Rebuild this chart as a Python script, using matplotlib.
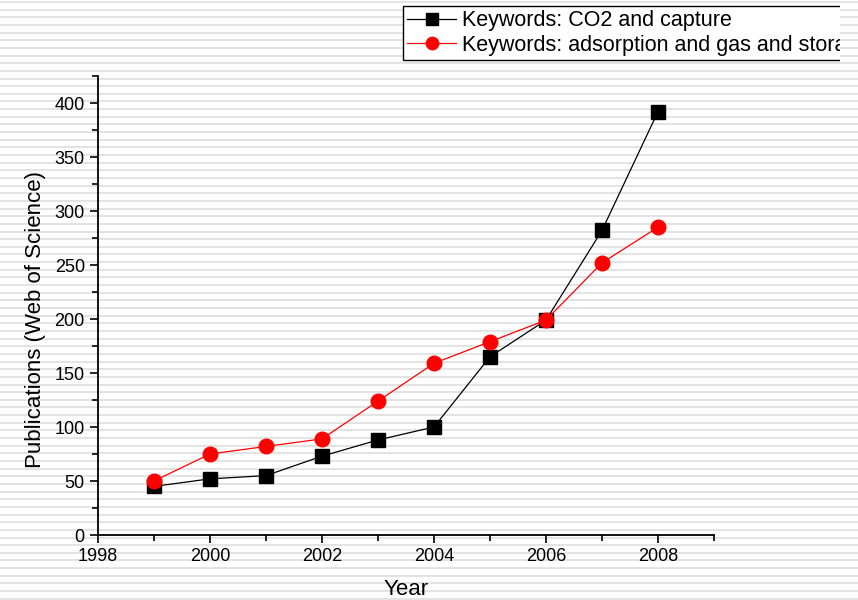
import numpy as np
import matplotlib
matplotlib.use("Agg")
import matplotlib.pyplot as plt
from matplotlib.patches import Rectangle
from matplotlib.ticker import MultipleLocator

years = [1999, 2000, 2001, 2002, 2003, 2004, 2005, 2006, 2007, 2008]
co2_capture = [45, 52, 55, 73, 88, 100, 165, 199, 282, 392]
adsorption_gas_storage = [50, 75, 82, 89, 124, 159, 179, 199, 252, 285]
labels = ["Keywords: CO2 and capture", "Keywords: adsorption and gas and storage"]

plt.rcParams['font.family'] = ['Liberation Sans', 'DejaVu Sans']

fig = plt.figure(figsize=(8.58, 6), dpi=100)
fig.patch.set_facecolor('white')


def stripes(x0, x1, y0, y1, z):
    # striped slide background
    for y in np.arange(1, 600, 7.65):
        if y < y0 or y > y1:
            continue
        fig.add_artist(Rectangle((x0 / 858, 1 - (y + 2) / 600), (x1 - x0) / 858, 2 / 600,
                                 transform=fig.transFigure, color='#e3e3e3', lw=0, zorder=z))


stripes(0, 858, 0, 600, -10)

ax = fig.add_axes([98 / 858, 65 / 600, 616 / 858, 459 / 600])
ax.set_facecolor('none')

ax.plot(years, co2_capture, color='black', lw=0.9, marker='s', ms=9.5, label=labels[0])
ax.plot(years, adsorption_gas_storage, color='red', lw=0.9, marker='o', ms=10.5, label=labels[1])

ax.set_xlim(1998, 2009)
ax.set_ylim(0, 425)
ax.xaxis.set_major_locator(MultipleLocator(2))
ax.xaxis.set_minor_locator(MultipleLocator(1))
ax.yaxis.set_major_locator(MultipleLocator(50))
ax.yaxis.set_minor_locator(MultipleLocator(25))
for s in ['top', 'right']:
    ax.spines[s].set_visible(False)
for s in ['left', 'bottom']:
    ax.spines[s].set_linewidth(1.3)
ax.tick_params(which='major', direction='out', length=6, width=1.2, labelsize=13)
ax.tick_params(which='minor', direction='out', length=4, width=1.2)

ax.set_xlabel('Year', fontsize=16, labelpad=10)
ax.set_ylabel('Publications (Web of Science)', fontsize=16)
ax.yaxis.set_label_coords(-0.084, 0.47)

fig.legend(loc='upper left', bbox_to_anchor=(403 / 858, 1 - 6 / 600), fontsize=15.5,
           frameon=True, fancybox=False, edgecolor='black', facecolor='white', framealpha=1,
           handlelength=2.25, borderpad=0.2, labelspacing=0.15, handletextpad=0.3,
           borderaxespad=0, markerscale=0.85)

# legend runs off the slide edge
fig.add_artist(Rectangle((840 / 858, 1 - 70 / 600), 18 / 858, 70 / 600,
                         transform=fig.transFigure, color='white', lw=0, zorder=20))
stripes(840, 858, 0, 70, 21)

fig.savefig('out.png', dpi=100)
